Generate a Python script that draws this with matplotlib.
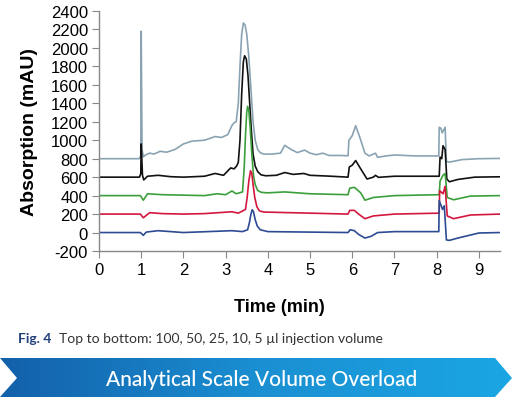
import numpy as np
import matplotlib.pyplot as plt
from matplotlib.patches import Polygon
import matplotlib.colors as mcolors

plt.rcParams['axes.unicode_minus'] = False

# values (time in min, absorption in mAU)
t_100 = [0, 0.95, 0.99, 1.0, 1.02, 1.05, 1.1, 1.2, 1.3, 1.45, 1.6, 1.8, 2.0, 2.2, 2.5, 2.75, 2.9, 3.05,
         3.15, 3.2, 3.25, 3.3, 3.34, 3.38, 3.42, 3.46, 3.5, 3.55, 3.6, 3.65, 3.7, 3.76, 3.82, 3.9,
         4.1, 4.3, 4.4, 4.55, 4.7, 4.87, 5.0, 5.15, 5.3, 5.45, 5.7, 5.9, 5.92, 6.0, 6.08, 6.18, 6.3,
         6.4, 6.55, 6.6, 6.8, 7.0, 7.5, 8.05, 8.06, 8.1, 8.13, 8.2, 8.23, 8.3, 8.6, 9.0, 9.5]
a_100 = [800, 800, 830, 2180, 900, 820, 840, 860, 850, 880, 870, 900, 960, 990, 1000, 1040, 1030, 1060,
         1160, 1190, 1200, 1400, 1800, 2150, 2270, 2250, 2150, 1900, 1550, 1200, 1000, 900, 865, 850,
         850, 860, 945, 900, 866, 893, 860, 843, 860, 835, 835, 832, 1000, 1050, 1157, 1030, 860,
         830, 860, 815, 830, 840, 830, 830, 1140, 1130, 1080, 1140, 770, 763, 790, 800, 803]

t_50 = [0, 0.96, 0.99, 1.0, 1.03, 1.06, 1.15, 1.4, 1.7, 2.0, 2.5, 2.75, 2.95, 3.12, 3.2, 3.26, 3.3,
        3.34, 3.38, 3.42, 3.45, 3.49, 3.53, 3.57, 3.61, 3.65, 3.7, 3.76, 3.84, 3.95, 4.2, 4.4, 4.6,
        4.85, 5.0, 5.5, 5.9, 5.93, 6.0, 6.08, 6.2, 6.35, 6.5, 6.55, 6.62, 7.0, 8.06, 8.08, 8.12,
        8.15, 8.2, 8.24, 8.3, 8.5, 8.9, 9.5]
a_50 = [600, 600, 640, 960, 620, 570, 610, 620, 605, 600, 610, 640, 620, 700, 690, 720, 760,
        1000, 1500, 1850, 1915, 1880, 1700, 1400, 1100, 850, 720, 660, 625, 615, 620, 650, 630,
        640, 620, 610, 600, 710, 730, 780, 690, 580, 600, 620, 598, 610, 610, 817, 800,
        940, 900, 580, 550, 575, 600, 604]

t_25 = [0, 0.98, 1.05, 1.15, 1.5, 2.0, 2.5, 2.8, 3.0, 3.15, 3.25, 3.4, 3.44, 3.47, 3.5, 3.52, 3.55,
        3.58, 3.62, 3.66, 3.7, 3.76, 3.85, 4.0, 4.4, 5.0, 5.9, 5.94, 6.05, 6.2, 6.3, 6.5, 7.0, 8.06,
        8.08, 8.15, 8.2, 8.25, 8.4, 8.8, 9.5]
a_25 = [400, 400, 350, 420, 410, 405, 400, 420, 410, 450, 420, 440, 700, 1050, 1300, 1367, 1320,
        1150, 850, 620, 520, 455, 435, 430, 440, 420, 410, 480, 490, 430, 350, 380, 400, 410,
        560, 620, 640, 380, 355, 395, 400]

t_10 = [0, 0.98, 1.05, 1.2, 1.5, 2.0, 2.5, 3.15, 3.3, 3.47, 3.51, 3.55, 3.59, 3.62, 3.65, 3.69, 3.74,
        3.8, 3.9, 5.0, 5.9, 5.94, 6.05, 6.15, 6.3, 6.5, 7.0, 8.06, 8.07, 8.15, 8.2, 8.25, 8.4, 8.8, 9.5]
a_10 = [200, 200, 160, 215, 205, 200, 205, 225, 210, 250, 380, 560, 670, 640, 520, 380, 280,
        235, 222, 210, 200, 240, 240, 200, 150, 180, 200, 210, 453, 420, 500, 180, 150, 190, 200]

t_5 = [0, 0.98, 1.05, 1.12, 1.4, 2.0, 3.15, 3.4, 3.52, 3.56, 3.6, 3.63, 3.66, 3.7, 3.75, 3.82, 4.0,
       5.9, 5.95, 6.05, 6.15, 6.3, 6.45, 6.6, 7.0, 8.05, 8.06, 8.14, 8.18, 8.23, 8.3, 8.5, 9.0, 9.5]
a_5 = [0, 0, -30, 5, 20, 0, 20, 10, 30, 100, 200, 247, 225, 140, 70, 30, 10,
       0, 30, 20, -20, -60, -40, 0, 10, 10, 345, 250, 290, -80, -85, -60, -5, 0]

series = [(t_100, a_100, '#8aa3b3'), (t_50, a_50, '#111111'), (t_25, a_25, '#3c9f3c'),
          (t_10, a_10, '#d3173d'), (t_5, a_5, '#2c4b93')]

y_ticks = list(range(-200, 2401, 200))
x_ticks = list(range(0, 10))

fig = plt.figure(figsize=(5.12, 4.02), dpi=100)
ax = fig.add_axes([99 / 512, 1 - 252 / 402, 401 / 512, 240 / 402])

for t, a, c in series:
    ax.plot(t, a, color=c, lw=1.2)

ax.set_xlim(0, 9.5)
ax.set_ylim(-200, 2400)
ax.set_xticks(x_ticks)
ax.set_yticks(y_ticks)
for s in ['top', 'right']:
    ax.spines[s].set_visible(False)
for s in ['left', 'bottom']:
    ax.spines[s].set_color('#888888')
    ax.spines[s].set_linewidth(1.0)
ax.tick_params(direction='out', length=5, color='#888888', labelsize=12, pad=3)
for lab in ax.get_xticklabels() + ax.get_yticklabels():
    lab.set_family('Liberation Sans')

fig.text(30 / 512, 1 - 132 / 402, 'Absorption (mAU)', rotation=90, ha='center', va='center',
         fontsize=14, fontweight='bold', family='Liberation Sans')
fig.text(279 / 512, 1 - 307 / 402, 'Time (min)', ha='center', va='center',
         fontsize=13, fontweight='bold', family='Liberation Sans')

# caption
fig.text(18 / 512, 1 - 339 / 402, 'Fig. 4', ha='left', va='center', fontsize=10,
         fontweight='bold', color='#23407a', family='Lato')
fig.text(59 / 512, 1 - 339 / 402, 'Top to bottom: 100, 50, 25, 10, 5 µl injection volume',
         ha='left', va='center', fontsize=10, color='#333333', family='Lato')

# banner
bax = fig.add_axes([0, 0, 1, 1], zorder=-1)
bax.set_xlim(0, 512)
bax.set_ylim(402, 0)
bax.axis('off')
cmap = mcolors.LinearSegmentedColormap.from_list('band', ['#1360aa', '#1a8fd2', '#1ba6e3'])
grad = np.linspace(0, 1, 256).reshape(1, -1)
im = bax.imshow(grad, cmap=cmap, extent=[0, 512, 398, 359], aspect='auto')
poly = Polygon([[0, 359], [495, 359], [512, 379], [495, 398], [0, 398], [17, 379]],
               closed=True, facecolor='none', edgecolor='none')
bax.add_patch(poly)
im.set_clip_path(poly)
fig.text(262 / 512, 1 - 380 / 402, 'Analytical Scale Volume Overload', ha='center', va='center',
         fontsize=15, fontweight='medium', color='white', family='Lato')

fig.savefig('out.png', dpi=100)
